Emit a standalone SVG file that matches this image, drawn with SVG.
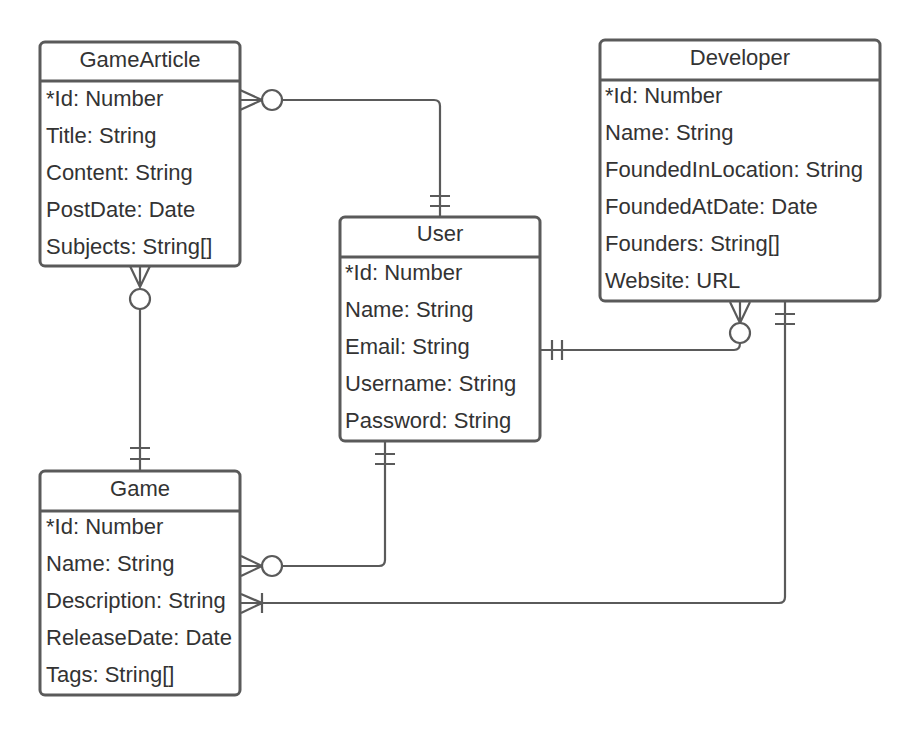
<svg xmlns="http://www.w3.org/2000/svg" width="920" height="736" viewBox="0 0 920 736">
<style>
.box{fill:#ffffff;stroke:#5a5a5a;stroke-width:3}
.div{stroke:#5a5a5a;stroke-width:3}
.t{font-family:"Liberation Sans",Arial,sans-serif;font-size:22px;fill:#333333}
.h{text-anchor:middle}
.c{fill:none;stroke:#5a5a5a;stroke-width:2.2}
.o{fill:#ffffff;stroke:#5a5a5a;stroke-width:2.2}
</style>
<rect width="920" height="736" fill="#ffffff"/>
<g id="connectors">
  <!-- GameArticle - User -->
  <path class="c" d="M282,100 H434 Q440,100 440,106 V217"/>
  <path class="c" d="M240,90 L262,100 L240,110 M240,100 H262"/>
  <circle class="o" cx="272" cy="100" r="10"/>
  <path class="c" d="M430,196 H450 M430,206 H450"/>
  <!-- GameArticle - Game -->
  <path class="c" d="M140,309 V471"/>
  <path class="c" d="M130,266 L140,287 L150,266 M140,266 V287"/>
  <circle class="o" cx="140" cy="299" r="10"/>
  <path class="c" d="M130,448 H150 M130,459 H150"/>
  <!-- User - Developer -->
  <path class="c" d="M541,350 H734 Q740,350 740,343"/>
  <path class="c" d="M730,302 L740,323 L750,302 M740,302 V323"/>
  <circle class="o" cx="740" cy="333" r="10"/>
  <path class="c" d="M552,340 V360 M562,340 V360"/>
  <!-- Developer - Game -->
  <path class="c" d="M785,302 V597 Q785,603 779,603 H241"/>
  <path class="c" d="M775,314 H795 M775,324 H795"/>
  <path class="c" d="M241,594 L262,603 L241,613 M262,593 V613"/>
  <!-- User - Game -->
  <path class="c" d="M385,442 V560 Q385,566 379,566 H282"/>
  <path class="c" d="M375,454 H395 M375,464 H395"/>
  <path class="c" d="M241,556 L262,566 L241,576 M241,566 H262"/>
  <circle class="o" cx="272" cy="566" r="10"/>
</g>
<g id="GameArticle">
  <rect class="box" x="40" y="42" width="200" height="224" rx="5"/>
  <line class="div" x1="40" y1="81" x2="240" y2="81"/>
  <text class="t h" x="140" y="67">GameArticle</text>
  <text class="t" x="46" y="106">*Id: Number</text>
  <text class="t" x="46" y="143">Title: String</text>
  <text class="t" x="46" y="180">Content: String</text>
  <text class="t" x="46" y="217">PostDate: Date</text>
  <text class="t" x="46" y="254">Subjects: String[]</text>
</g>
<g id="Developer">
  <rect class="box" x="600" y="40" width="280" height="261" rx="5"/>
  <line class="div" x1="600" y1="80" x2="880" y2="80"/>
  <text class="t h" x="740" y="65">Developer</text>
  <text class="t" x="605" y="103">*Id: Number</text>
  <text class="t" x="605" y="140">Name: String</text>
  <text class="t" x="605" y="177">FoundedInLocation: String</text>
  <text class="t" x="605" y="214">FoundedAtDate: Date</text>
  <text class="t" x="605" y="251">Founders: String[]</text>
  <text class="t" x="605" y="288">Website: URL</text>
</g>
<g id="User">
  <rect class="box" x="340" y="217" width="200" height="224" rx="5"/>
  <line class="div" x1="340" y1="257" x2="540" y2="257"/>
  <text class="t h" x="440" y="241">User</text>
  <text class="t" x="345" y="280">*Id: Number</text>
  <text class="t" x="345" y="317">Name: String</text>
  <text class="t" x="345" y="354">Email: String</text>
  <text class="t" x="345" y="391">Username: String</text>
  <text class="t" x="345" y="428">Password: String</text>
</g>
<g id="Game">
  <rect class="box" x="40" y="471" width="200" height="224" rx="5"/>
  <line class="div" x1="40" y1="511" x2="240" y2="511"/>
  <text class="t h" x="140" y="496">Game</text>
  <text class="t" x="46" y="534">*Id: Number</text>
  <text class="t" x="46" y="571">Name: String</text>
  <text class="t" x="46" y="608">Description: String</text>
  <text class="t" x="46" y="645">ReleaseDate: Date</text>
  <text class="t" x="46" y="682">Tags: String[]</text>
</g>
</svg>
